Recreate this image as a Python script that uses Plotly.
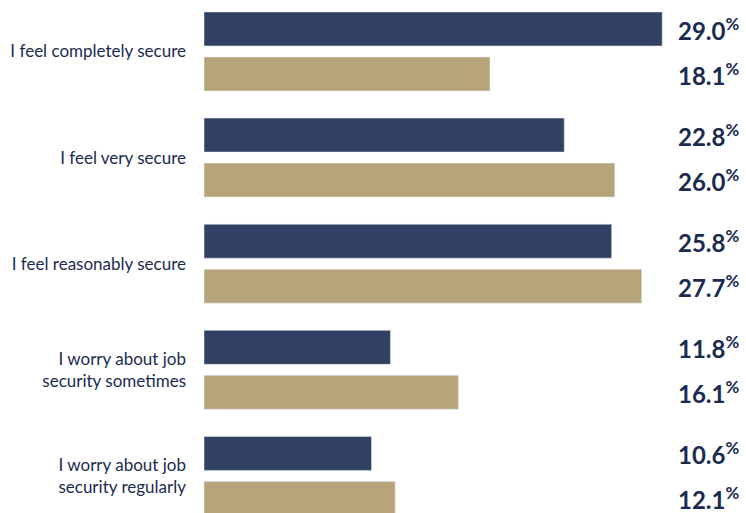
import plotly.graph_objects as go

categories = [
    "I feel completely secure",
    "I feel very secure",
    "I feel reasonably secure",
    "I worry about job<br>security sometimes",
    "I worry about job<br>security regularly",
]
series_a = [29.0, 22.8, 25.8, 11.8, 10.6]
series_b = [18.1, 26.0, 27.7, 16.1, 12.1]

NAVY = "#304163"
TAN = "#b8a47b"
TEXT = "#1a2b4f"
FONT = "Lato"

pos = list(range(len(categories)))
BAR_W = 0.32
HALF = 0.212
PX_PER_UNIT = 15.8

fig = go.Figure()
fig.add_trace(go.Bar(
    y=pos, x=series_a, orientation="h", marker_color=NAVY,
    width=BAR_W, offset=-HALF - BAR_W / 2, showlegend=False, hoverinfo="x",
))
fig.add_trace(go.Bar(
    y=pos, x=series_b, orientation="h", marker_color=TAN,
    width=BAR_W, offset=HALF - BAR_W / 2, showlegend=False, hoverinfo="x",
))

# value labels in a column on the right
annotations = []
for i, (a, b) in enumerate(zip(series_a, series_b)):
    for v, dy in ((a, -HALF), (b, HALF)):
        annotations.append(dict(
            x=472 / PX_PER_UNIT, y=i + dy, xref="x", yref="y",
            text=f"<b>{v:.1f}</b><sup><b>%</b></sup>",
            showarrow=False, xanchor="left", yanchor="middle",
            font=dict(family=FONT, size=24, color=TEXT),
        ))

fig.update_layout(
    width=746, height=513,
    margin=dict(l=204, r=0, t=0, b=0),
    paper_bgcolor="white", plot_bgcolor="white",
    barmode="overlay",
    annotations=annotations,
    xaxis=dict(range=[0, 542 / PX_PER_UNIT], visible=False, fixedrange=True),
    yaxis=dict(
        range=[4.349, -0.485],
        tickvals=pos, ticktext=categories,
        showgrid=False, zeroline=False, showline=False, ticks="",
        ticklabelstandoff=17,
        tickfont=dict(family=FONT, size=17, color=TEXT),
    ),
)

fig.write_html("out.html")
